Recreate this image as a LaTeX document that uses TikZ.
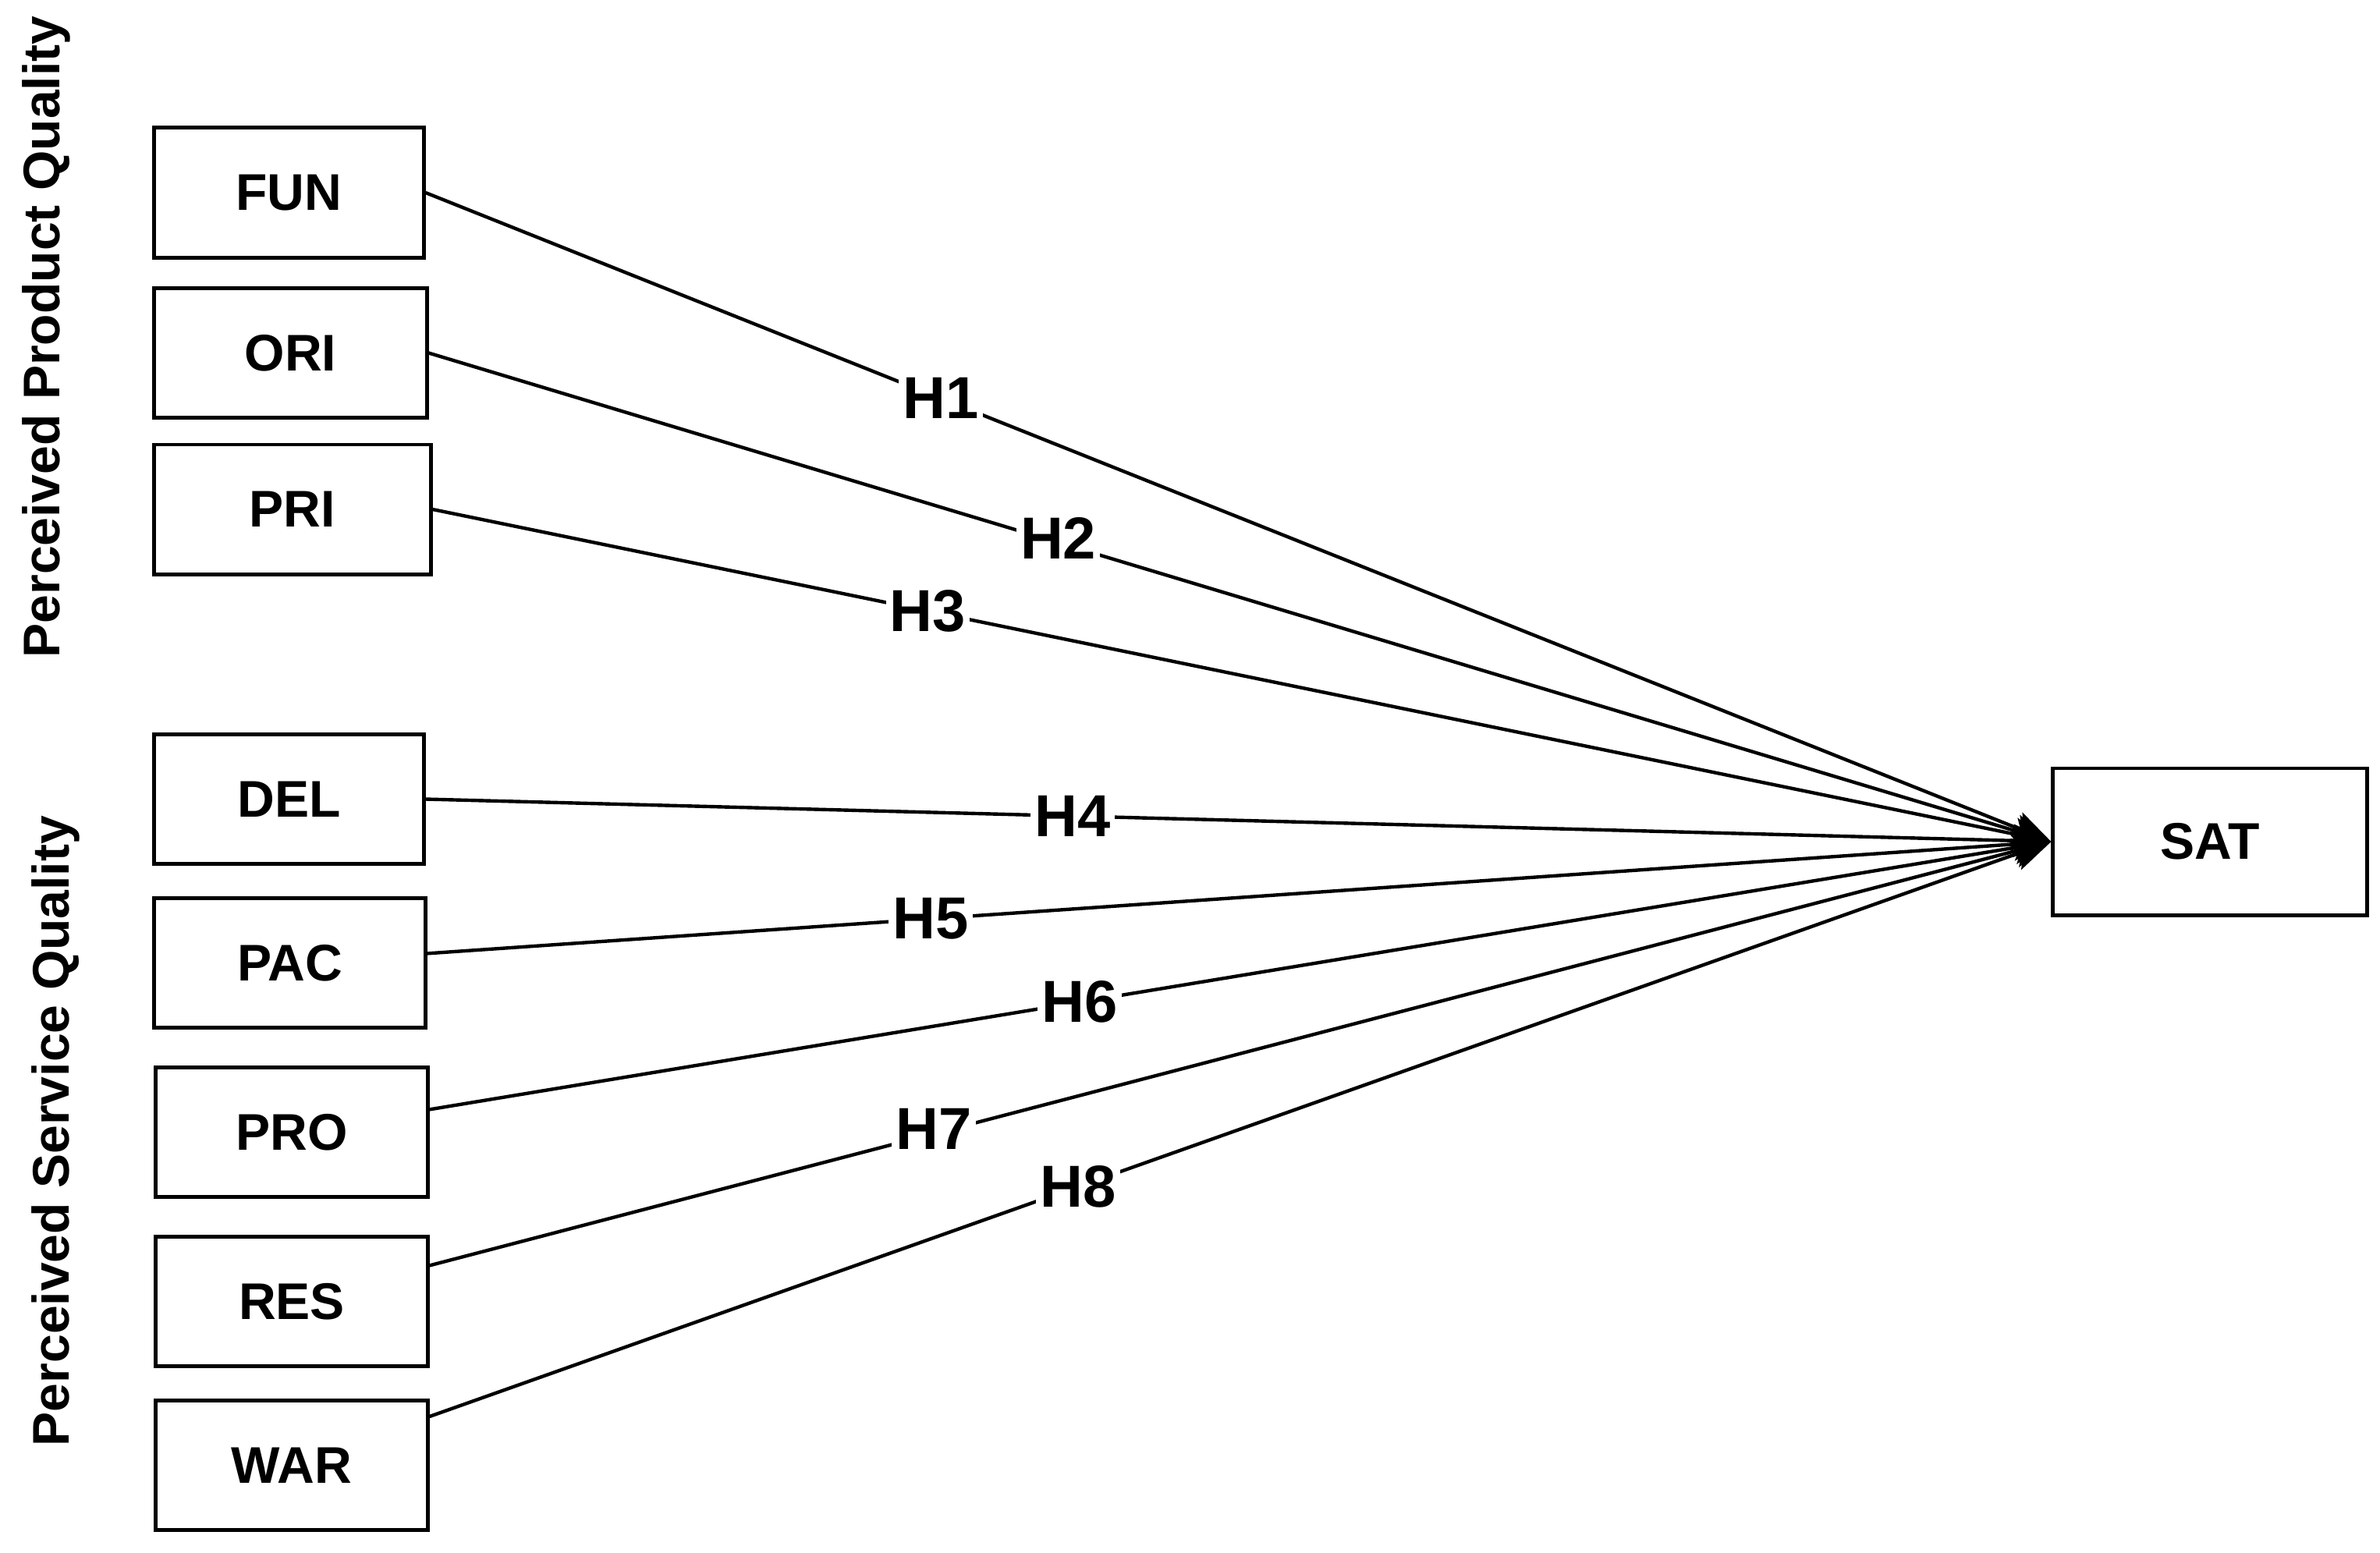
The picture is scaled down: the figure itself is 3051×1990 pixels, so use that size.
\documentclass[tikz,border=0pt]{standalone}
\usepackage{fontspec}
\setmainfont{Liberation Sans}
\usetikzlibrary{arrows.meta}
\begin{document}
\begin{tikzpicture}[x=0.01cm,y=-0.01cm,
  box/.style={draw, line width=1.4pt, minimum height=1.66cm, inner sep=0pt,
    font=\fontsize{18.8}{22}\selectfont\bfseries},
  link/.style={line width=1.25pt, -{Stealth[length=0.48cm,width=0.42cm,inset=0.1cm]}},
  hlab/.style={fill=white, inner sep=1.5pt, font=\fontsize{21.6}{26}\selectfont\bfseries},
  side/.style={rotate=90, anchor=base, font=\fontsize{18.8}{22}\selectfont\bfseries}]
\useasboundingbox (0,0) rectangle (3051,1990);
% side labels
\node[side] (ppq) at (76,432) {Perceived Product Quality};
\node[side] (psq) at (88,1450) {Perceived Service Quality};
% boxes
\node[box, minimum width=3.45cm] (fun) at (370.5,247) {FUN};
\node[box, minimum width=3.49cm] (ori) at (372.5,452.5) {ORI};
\node[box, minimum width=3.54cm] (pri) at (375,653) {PRI};
\node[box, minimum width=3.45cm] (del) at (370.5,1024.5) {DEL};
\node[box, minimum width=3.47cm] (pac) at (371.5,1234.5) {PAC};
\node[box, minimum width=3.48cm] (pro) at (374,1451.5) {PRO};
\node[box, minimum width=3.48cm] (res) at (374,1668.5) {RES};
\node[box, minimum width=3.48cm] (war) at (374,1878.5) {WAR};
\node[box, minimum width=4.02cm, minimum height=1.88cm] (sat) at (2833,1079) {SAT};
% connectors
\draw[link] (fun.east) -- node[hlab, pos=0.317] {H1} (sat.west);
\draw[link] (ori.east) -- node[hlab, pos=0.388, yshift=0.06cm] {H2} (sat.west);
\draw[link] (pri.east) -- node[hlab, pos=0.306] {H3} (sat.west);
\draw[link] (del.east) -- node[hlab, pos=0.398] {H4} (sat.west);
\draw[link] (pac) -- node[hlab, pos=0.310] {H5} (sat.west);
\draw[link] (pro) -- node[hlab, pos=0.401] {H6} (sat.west);
\draw[link] (res) -- node[hlab, pos=0.311, yshift=0.06cm] {H7} (sat.west);
\draw[link] (war) -- node[hlab, pos=0.400] {H8} (sat.west);
\end{tikzpicture}
\end{document}
